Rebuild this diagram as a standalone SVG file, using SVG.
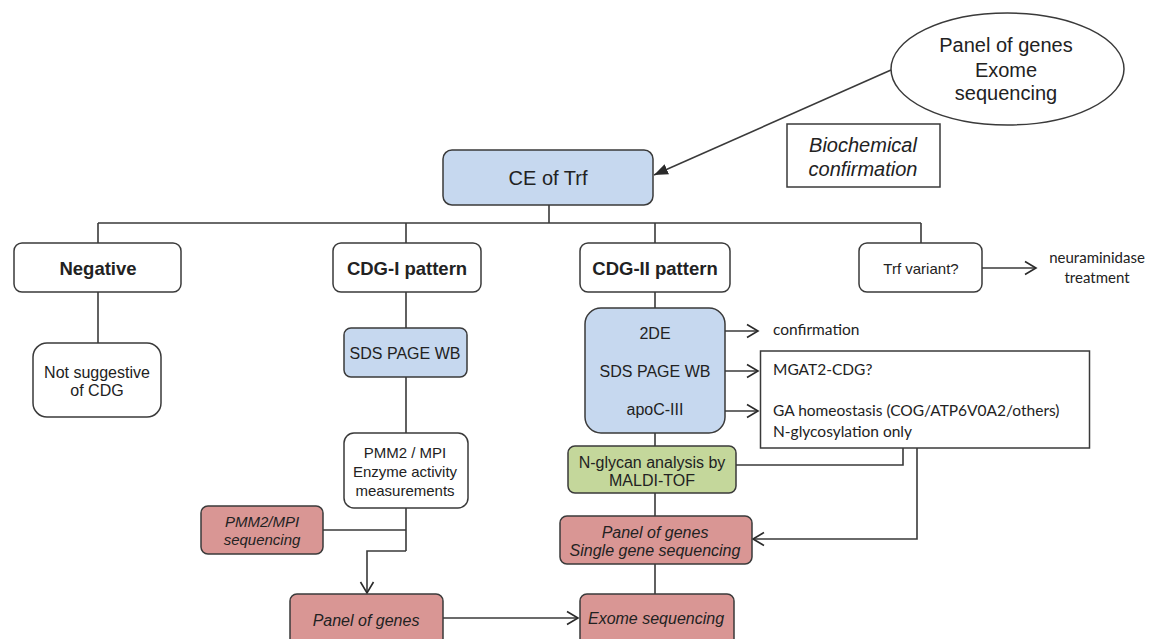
<svg xmlns="http://www.w3.org/2000/svg" width="1151" height="639" viewBox="0 0 1151 639">
<style>
.box{stroke:#3a3a3a;stroke-width:1.5}
.w{fill:#ffffff}
.b{fill:#c6d8ef}
.r{fill:#d99694}
.g{fill:#c4d79b}
.ln{fill:none;stroke:#3a3a3a;stroke-width:1.6}
.t{font-family:"Liberation Sans",Arial,sans-serif;fill:#222;text-anchor:middle}
.c{font-family:Lato,"Liberation Sans",sans-serif;fill:#222}
.i{font-style:italic}
.bold{font-weight:bold}
</style>
<defs>
<marker id="open" markerUnits="userSpaceOnUse" markerWidth="16" markerHeight="16" refX="12" refY="8" orient="auto">
<path d="M1,1.5 L12,8 L1,14.5" fill="none" stroke="#2a2a2a" stroke-width="1.6"/>
</marker>
<marker id="fill" markerUnits="userSpaceOnUse" markerWidth="16" markerHeight="12" refX="14" refY="6" orient="auto">
<path d="M0,0.5 L14,6 L0,11.5 Z" fill="#2a2a2a"/>
</marker>
</defs>
<rect width="1151" height="639" fill="#ffffff"/>
<g id="connectors">
<path class="ln" d="M549,205 V223 M98,223 H921 M98,223 V243 M406,223 V243 M655,223 V243 M921,223 V243"/>
<path class="ln" d="M982,268 H1036" marker-end="url(#open)"/>
<path class="ln" d="M891,70 L654,175" marker-end="url(#fill)"/>
<path class="ln" d="M98,292 V343"/>
<path class="ln" d="M406,292 V328 M406,377 V433 M406,508 V551 M323,530 H406"/>
<path class="ln" d="M406,551 H367 V593" marker-end="url(#open)"/>
<path class="ln" d="M443,618 H578" marker-end="url(#open)"/>
<path class="ln" d="M655,292 V308 M655,433 V446 M655,493 V516 M655,564 V594"/>
<path class="ln" d="M725,331 H758" marker-end="url(#open)"/>
<path class="ln" d="M725,371 H758" marker-end="url(#open)"/>
<path class="ln" d="M725,411 H758" marker-end="url(#open)"/>
<path class="ln" d="M903,448 V465 H736"/>
<path class="ln" d="M917,448 V539 H753" marker-end="url(#open)"/>
</g>
<g id="ellipse-genes">
<ellipse cx="1007.5" cy="69" rx="116.5" ry="56" class="box w"/>
<text class="t" x="1006" y="52" font-size="20">Panel of genes</text>
<text class="t" x="1006" y="77" font-size="20">Exome</text>
<text class="t" x="1006" y="100" font-size="20">sequencing</text>
</g>
<g id="biochemical">
<rect x="787" y="124" width="153" height="63" class="box w"/>
<text class="t i" x="863" y="152" font-size="20">Biochemical</text>
<text class="t i" x="863" y="176" font-size="20">confirmation</text>
</g>
<g id="ce-trf">
<rect x="443" y="150" width="210" height="55" rx="9" class="box b"/>
<text class="t" x="548" y="185" font-size="20">CE of Trf</text>
</g>
<g id="negative">
<rect x="14" y="243" width="167" height="49" rx="8" class="box w"/>
<text class="t bold" x="98" y="275" font-size="18.5">Negative</text>
</g>
<g id="cdg1">
<rect x="333" y="243" width="148" height="49" rx="8" class="box w"/>
<text class="t bold" x="407" y="275" font-size="18.5">CDG-I pattern</text>
</g>
<g id="cdg2">
<rect x="580" y="243" width="150" height="49" rx="8" class="box w"/>
<text class="t bold" x="655" y="275" font-size="18.5">CDG-II pattern</text>
</g>
<g id="trf-variant">
<rect x="859" y="243" width="123" height="49" rx="8" class="box w"/>
<text class="t" x="921" y="273.5" font-size="15">Trf variant?</text>
</g>
<g id="neuraminidase">
<text class="c" x="1097" y="263" font-size="15" text-anchor="middle">neuraminidase</text>
<text class="c" x="1097" y="283" font-size="15" text-anchor="middle">treatment</text>
</g>
<g id="not-suggestive">
<rect x="33" y="343" width="128" height="74" rx="14" class="box w"/>
<text class="t" x="97" y="378" font-size="16">Not suggestive</text>
<text class="t" x="97" y="396" font-size="16">of CDG</text>
</g>
<g id="sds1">
<rect x="344" y="328" width="123" height="49" rx="7" class="box b"/>
<text class="t" x="405" y="359" font-size="16">SDS PAGE WB</text>
</g>
<g id="pmm2">
<rect x="344" y="433" width="124" height="75" rx="10" class="box w"/>
<text class="t" x="405" y="458" font-size="15">PMM2 / MPI</text>
<text class="t" x="405" y="477" font-size="15">Enzyme activity</text>
<text class="t" x="405" y="496" font-size="15">measurements</text>
</g>
<g id="pmm2-seq">
<rect x="201" y="506" width="122" height="48" rx="7" class="box r"/>
<text class="t i" x="262" y="527" font-size="15">PMM2/MPI</text>
<text class="t i" x="262" y="545" font-size="15">sequencing</text>
</g>
<g id="panel1">
<rect x="290" y="594" width="153" height="60" rx="7" class="box r"/>
<text class="t i" x="366" y="626" font-size="16">Panel of genes</text>
</g>
<g id="cdg2-tests">
<rect x="585" y="308" width="140" height="125" rx="16" class="box b"/>
<text class="t" x="655" y="339" font-size="16">2DE</text>
<text class="t" x="655" y="377" font-size="16">SDS PAGE WB</text>
<text class="t" x="655" y="415" font-size="16">apoC-III</text>
</g>
<g id="confirmation">
<text class="c" x="773" y="335" font-size="15.5">confirmation</text>
</g>
<g id="mgat2">
<rect x="760.5" y="351" width="329" height="97" class="box w"/>
<text class="c" x="773" y="375" font-size="15.5">MGAT2-CDG?</text>
<text class="c" x="773" y="416" font-size="15.5">GA homeostasis (COG/ATP6V0A2/others)</text>
<text class="c" x="773" y="437" font-size="15.5">N-glycosylation only</text>
</g>
<g id="nglycan">
<rect x="568" y="446" width="168" height="47" rx="7" class="box g"/>
<text class="t" x="652" y="468" font-size="16">N-glycan analysis by</text>
<text class="t" x="652" y="486" font-size="16">MALDI-TOF</text>
</g>
<g id="panel2">
<rect x="560" y="516" width="192" height="48" rx="7" class="box r"/>
<text class="t i" x="655" y="538" font-size="16">Panel of genes</text>
<text class="t i" x="655" y="556" font-size="16">Single gene sequencing</text>
</g>
<g id="exome">
<rect x="580" y="594" width="154" height="60" rx="7" class="box r"/>
<text class="t i" x="656" y="624" font-size="16">Exome sequencing</text>
</g>
</svg>
